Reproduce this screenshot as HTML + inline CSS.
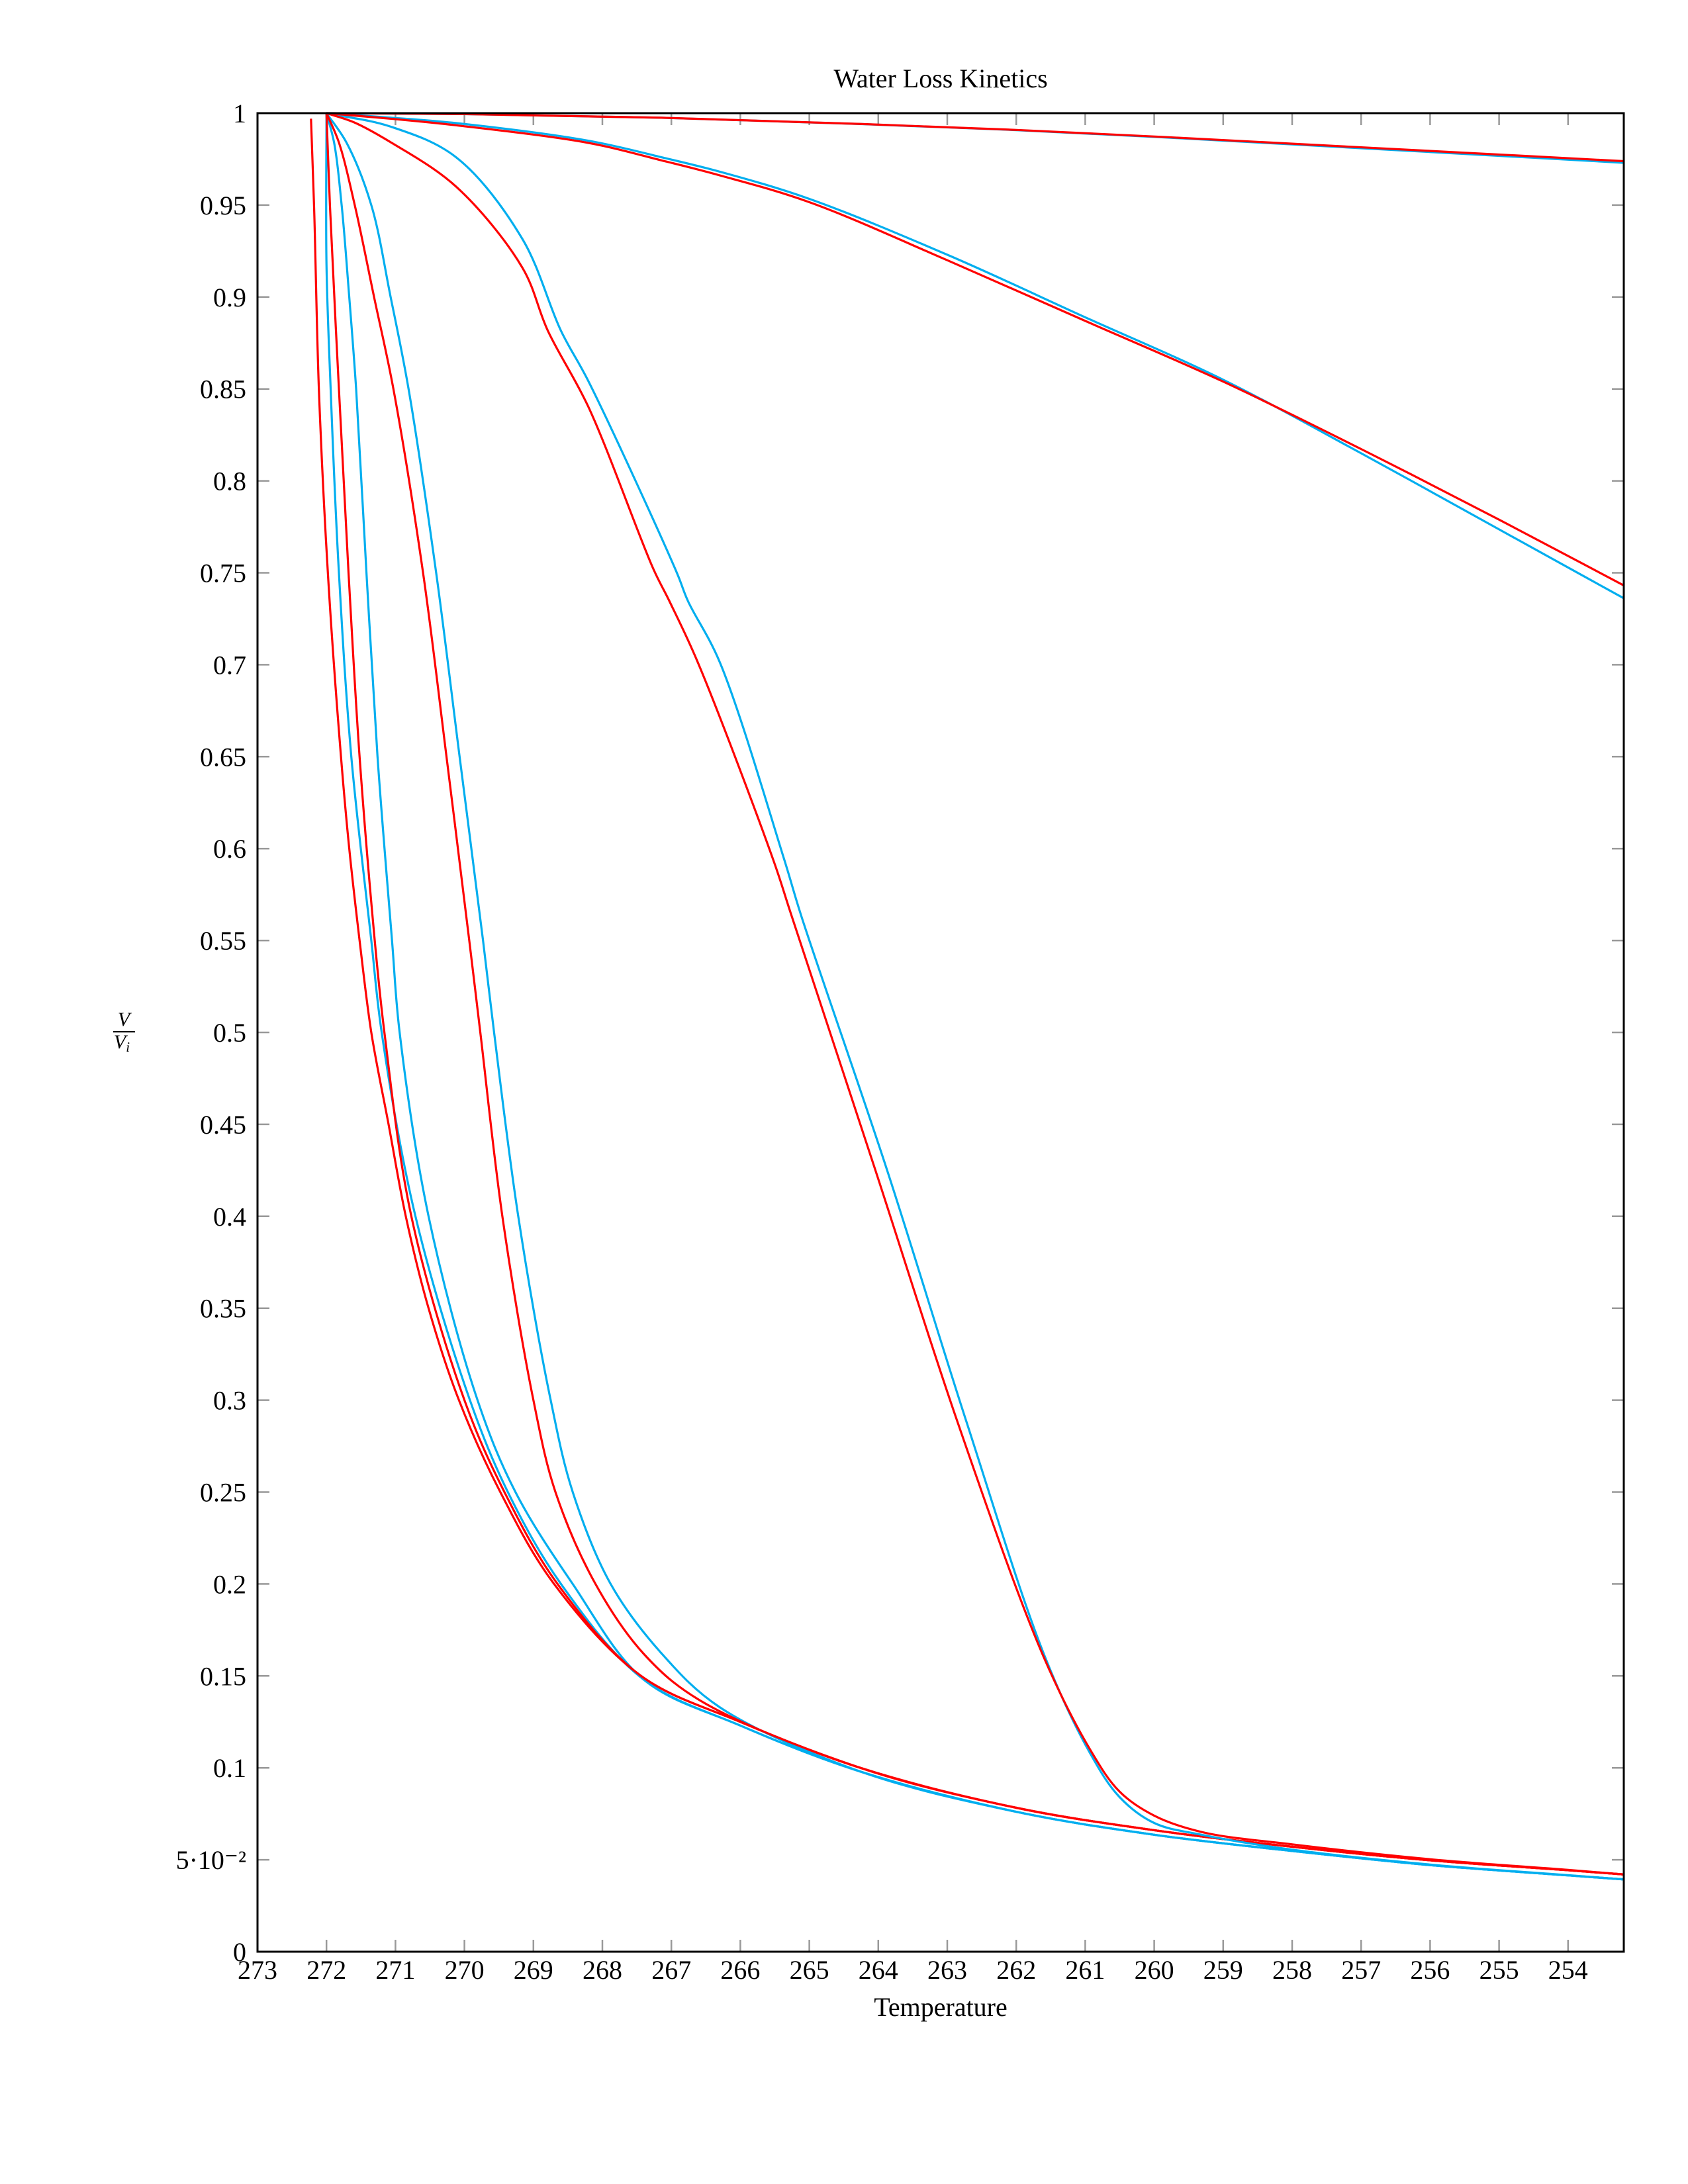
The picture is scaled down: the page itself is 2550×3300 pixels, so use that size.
<!DOCTYPE html>
<html><head><meta charset="utf-8"><title>Water Loss Kinetics</title>
<style>
html,body{margin:0;padding:0;background:#fff;}
svg{display:block;font-family:"Liberation Serif",serif;}
</style></head>
<body>
<svg id="chart" width="2550" height="3300" viewBox="0 0 2550 3300" xmlns="http://www.w3.org/2000/svg">
<rect width="2550" height="3300" fill="#fff"/>
<text x="1421" y="132" font-size="40" text-anchor="middle">Water Loss Kinetics</text>
<text x="1421" y="3046" font-size="40" text-anchor="middle">Temperature</text>
<g>
<text x="187" y="1550" font-size="30" font-style="italic" text-anchor="middle">V</text>
<line x1="171" y1="1559" x2="204" y2="1559" stroke="#000" stroke-width="2"/>
<text x="184" y="1584" font-size="30" font-style="italic" text-anchor="middle">V<tspan font-size="21" dy="5">i</tspan></text>
</g>
<g id="ticks"></g>
<g id="series"></g>
<rect x="389" y="171" width="2064" height="2778" fill="none" stroke="#000" stroke-width="3"/>
</svg>
<script>
const xTicks=[273,272,271,270,269,268,267,266,265,264,263,262,261,260,259,258,257,256,255,254];
const yTicks=[0,0.05,0.1,0.15,0.2,0.25,0.3,0.35,0.4,0.45,0.5,0.55,0.6,0.65,0.7,0.75,0.8,0.85,0.9,0.95,1];
const yTickLabels=["0","5·10⁻²","0.1","0.15","0.2","0.25","0.3","0.35","0.4","0.45","0.5","0.55","0.6","0.65","0.7","0.75","0.8","0.85","0.9","0.95","1"];
const redTail=[[267.44,0.15],[266,0.125],[264.26,0.1],[262,0.0783],[260,0.0661],[258,0.0571],[256,0.0497],[254,0.0443],[253.19,0.042]];
const blueTail=[[267.4,0.148],[266,0.123],[264.26,0.098],[262,0.0761],[260,0.0636],[258,0.0548],[256,0.0471],[254,0.0415],[253.19,0.0393]];
const red0=[[272.225,0.997],[272.18,0.95],[272.11,0.85],[271.98,0.75],[271.79,0.65],[271.67,0.6],[271.52,0.55],[271.35,0.5],[271.1,0.45],[270.85,0.4],[270.52,0.35],[270.08,0.3],[269.48,0.25],[268.7,0.2]];
const blue0=[[272,1],[272,0.918],[271.94,0.85],[271.82,0.75],[271.64,0.65],[271.35,0.55],[271.2,0.5],[270.71,0.4],[269.92,0.3],[269.37,0.25],[268.6,0.2]];
const red1=[[272,1],[271.95,0.95],[271.82,0.85],[271.68,0.75],[271.52,0.65],[271.3,0.55],[271.16,0.5],[270.77,0.4],[270.0,0.3],[269.42,0.25],[268.65,0.2]];
const blue1=[[272,1],[271.89,0.984],[271.78,0.95],[271.67,0.9],[271.57,0.85],[271.42,0.75],[271.26,0.65],[271.05,0.55],[270.94,0.5],[270.52,0.4],[269.81,0.3],[269.26,0.25],[268.43,0.2]];
const red2=[[272,1],[271.82,0.984],[271.59,0.95],[271.31,0.9],[271.03,0.85],[270.6,0.75],[270.26,0.65],[269.93,0.55],[269.77,0.5],[269.45,0.4],[269.0,0.3],[268.68,0.25],[268.1,0.2],[267.4,0.162],[266.6,0.137]];
const blue2=[[272,1],[271.71,0.984],[271.35,0.95],[271.07,0.9],[270.81,0.85],[270.41,0.75],[270.07,0.65],[269.73,0.55],[269.57,0.5],[269.22,0.4],[268.75,0.3],[268.43,0.25],[267.88,0.2],[267.16,0.163],[266.3,0.133]];
const red3=[[272,1],[271.6,0.995],[271.08,0.9844],[270.12,0.96],[269.16,0.916],[268.79,0.8816],[268.2,0.84],[267.26,0.752],[267.03,0.7347],[266.62,0.7016],[265.52,0.5936],[265.26,0.5638],[264.05,0.426],[262.85,0.288],[261.61,0.161],[260.93,0.11],[260.5,0.087],[260,0.074],[259.3,0.065],[258,0.0584],[256,0.0503],[254,0.0445],[253.19,0.042]];
const blue3=[[272,1],[271.08,0.9928],[270.12,0.976],[269.16,0.9316],[268.6,0.8816],[268.2,0.854],[266.92,0.75],[266.76,0.7347],[266.3,0.7016],[265.36,0.5936],[265.12,0.5638],[263.88,0.426],[262.72,0.288],[261.59,0.161],[260.93,0.108],[260.5,0.084],[260,0.07],[259.3,0.0635],[258,0.0555],[256,0.0474],[254,0.0416],[253.19,0.0393]];
const red4=[[272,1],[271.08,0.997],[270.12,0.9934],[268.2,0.9838],[267.14,0.9743],[266.28,0.966],[265,0.9516],[263,0.92],[261,0.887],[259,0.854],[257,0.8173],[255,0.7789],[253.19,0.7431]];
const blue4=[[272,1],[271.08,0.9976],[270.12,0.9946],[268.2,0.985],[267.14,0.976],[266.28,0.968],[265,0.9534],[263,0.923],[261,0.889],[259,0.855],[257,0.815],[255,0.7736],[253.19,0.7361]];
const red5=[[272,1],[270,0.9995],[267.14,0.9975],[262,0.9909],[258,0.9834],[253.19,0.9739]];
const blue5=[[272,1],[270,0.9995],[267.14,0.9975],[262,0.9908],[258,0.983],[253.19,0.973]];

const X0=389,X1=2453,Y0=2949,Y1=171;
const xMin=273;
function sx(t){return X0+(xMin-t)*104.2;}
function sy(v){return Y0-v*(Y0-Y1);}
const NS="http://www.w3.org/2000/svg";
const tg=document.getElementById('ticks');
xTicks.forEach(t=>{
  const x=sx(t);
  const l1=document.createElementNS(NS,'path');
  l1.setAttribute('d',`M${x},${Y0}v-18M${x},${Y1}v18`);
  l1.setAttribute('stroke','#999');l1.setAttribute('stroke-width','2.5');
  
  
  tg.appendChild(l1);
  const tx=document.createElementNS(NS,'text');
  tx.setAttribute('x',x);tx.setAttribute('y',2990);tx.setAttribute('font-size','40');tx.setAttribute('text-anchor','middle');
  tx.textContent=t;
  
  
  tg.appendChild(tx);
});
yTicks.forEach((v,i)=>{
  const y=sy(v);
  const l1=document.createElementNS(NS,'path');
  l1.setAttribute('d',`M${X0},${y}h18M${X1},${y}h-18`);
  l1.setAttribute('stroke','#999');l1.setAttribute('stroke-width','2.5');
  
  
  tg.appendChild(l1);
  const tx=document.createElementNS(NS,'text');
  tx.setAttribute('x',372);tx.setAttribute('y',y+14);tx.setAttribute('font-size','40');tx.setAttribute('text-anchor','end');
  tx.textContent=yTickLabels[i];
  
  
  tg.appendChild(tx);
});
function dist(a,b){return Math.max(1e-3,Math.sqrt(Math.hypot(b[0]-a[0],b[1]-a[1])));}
function pathFor(pts){
  const p=pts.map(d=>[sx(d[0]),sy(d[1])]);
  let d=`M${p[0][0].toFixed(1)},${p[0][1].toFixed(1)}`;
  for(let i=0;i<p.length-1;i++){
    const P1=p[i],P2=p[i+1];
    const P0=p[i-1]||[2*P1[0]-P2[0],2*P1[1]-P2[1]];
    const P3=p[i+2]||[2*P2[0]-P1[0],2*P2[1]-P1[1]];
    const d1=dist(P0,P1),d2=dist(P1,P2),d3=dist(P2,P3);
    const b1=[],b2=[];
    for(let k=0;k<2;k++){
      const m1=(P1[k]-P0[k])/d1-(P2[k]-P0[k])/(d1+d2)+(P2[k]-P1[k])/d2;
      const m2=(P2[k]-P1[k])/d2-(P3[k]-P1[k])/(d2+d3)+(P3[k]-P2[k])/d3;
      b1[k]=P1[k]+m1*d2/3;
      b2[k]=P2[k]-m2*d2/3;
    }
    d+=`C${b1[0].toFixed(1)},${b1[1].toFixed(1)} ${b2[0].toFixed(1)},${b2[1].toFixed(1)} ${P2[0].toFixed(1)},${P2[1].toFixed(1)}`;
  }
  return d;
}
const sg=document.getElementById('series');
const cp=document.createElementNS(NS,'clipPath');cp.setAttribute('id','clip');
const cr=document.createElementNS(NS,'rect');cr.setAttribute('x',X0);cr.setAttribute('y',Y1-2);cr.setAttribute('width',X1-X0);cr.setAttribute('height',Y0-Y1+2);
cp.appendChild(cr);document.getElementById('chart').appendChild(cp);
sg.setAttribute('clip-path','url(#clip)');
const RED='#ff0000',BLUE='#00aeef';
const list=[
 ['blue-series-0',blue0.concat(blueTail),BLUE],
 ['red-series-0',red0.concat(redTail),RED],
 ['blue-series-1',blue1.concat(blueTail),BLUE],
 ['red-series-1',red1.concat(redTail),RED],
 ['blue-series-2',blue2.concat(blueTail.slice(2)),BLUE],
 ['red-series-2',red2.concat(redTail.slice(2)),RED],
 ['blue-series-3',blue3,BLUE],
 ['red-series-3',red3,RED],
 ['blue-series-4',blue4,BLUE],
 ['red-series-4',red4,RED],
 ['blue-series-5',blue5,BLUE],
 ['red-series-5',red5,RED]
];
list.forEach(s=>{
  const pe=document.createElementNS(NS,'path');
  pe.setAttribute('d',pathFor(s[1]));
  pe.setAttribute('fill','none');pe.setAttribute('stroke',s[2]);pe.setAttribute('stroke-width','3.2');
  pe.setAttribute('stroke-linejoin','round');
  
  
  sg.appendChild(pe);
});
</script>
</body></html>
